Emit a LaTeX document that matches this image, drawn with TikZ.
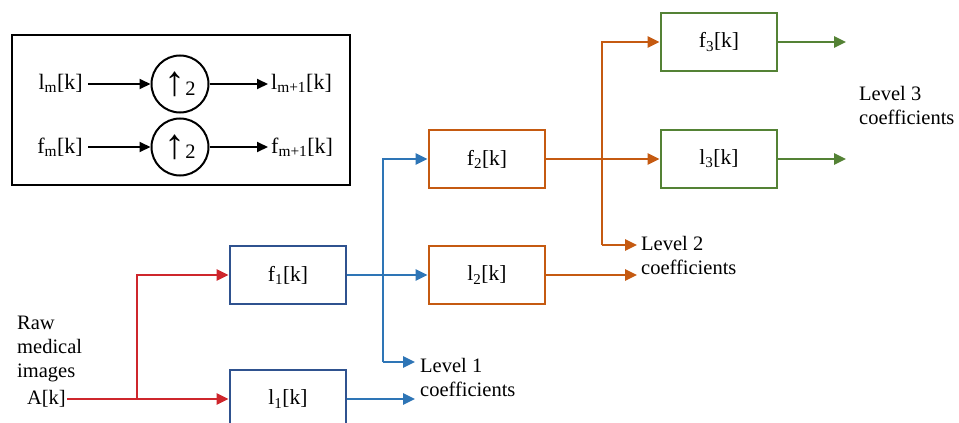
\documentclass[tikz,border=0pt]{standalone}
\usepackage{fontspec}
\setmainfont{Liberation Serif}
\usetikzlibrary{arrows.meta,positioning,calc}

\definecolor{rawred}{RGB}{206,38,44}
\definecolor{boxblue}{RGB}{47,82,143}
\definecolor{lvlblue}{RGB}{46,117,182}
\definecolor{lvlorange}{RGB}{197,90,17}
\definecolor{lvlgreen}{RGB}{84,130,53}

% tall up arrow sitting on the baseline
\newcommand{\tallup}{{\fontsize{42}{42}\selectfont ↑}}

\begin{document}
\begin{tikzpicture}[x=1pt,y=-1pt,
  font=\fontsize{20.5}{24}\selectfont,
  filt/.style={draw,line width=2.7pt,minimum width=116pt,minimum height=58pt,inner sep=0pt},
  upsamp/.style={draw,circle,line width=2pt,minimum size=57pt,inner sep=0pt},
  link/.style={line width=2.6pt,-{Triangle[length=12pt,width=11pt]}},
  lab/.style={align=left,inner sep=0pt,anchor=base west}]
\useasboundingbox (0,0) rectangle (959,423);

% legend: up-sampling by two
\node[draw,line width=2pt,minimum width=338pt,minimum height=150pt,inner sep=0pt] (legend) at (181,110) {};
\node[upsamp] (upl) at (180,84) {\tallup2};
\node[upsamp] (upf) at (180,147) {\tallup2};
\begin{scope}[font=\fontsize{22}{24}\selectfont]
  \node[anchor=east,inner sep=5pt] (lm) at (88,83) {l\textsubscript{m}[k]};
  \node[anchor=west,inner sep=3pt] (lm1) at (268,83) {l\textsubscript{m+1}[k]};
  \node[anchor=east,inner sep=5pt] (fm) at (88,147) {f\textsubscript{m}[k]};
  \node[anchor=west,inner sep=3pt] (fm1) at (268,147) {f\textsubscript{m+1}[k]};
\end{scope}
\foreach \a/\b in {lm/upl,fm/upf}
  \draw[line width=2pt,-{Triangle[length=11pt,width=10pt]}] (\a.east |- \b) -- (\b);
\foreach \a/\b in {upl/lm1,upf/fm1}
  \draw[line width=2pt,-{Triangle[length=11pt,width=10pt]}] (\a) -- (\b.west |- \a);

% filter boxes
\begin{scope}[font=\fontsize{21.5}{24}\selectfont]
\node[filt,boxblue] (f1) at (288,275) {\textcolor{black}{f\textsubscript{1}[k]}};
\node[filt,boxblue] (l1) at (288,399) {\textcolor{black}{l\textsubscript{1}[k]}};
\node[filt,lvlorange] (f2) at (487,159) {\textcolor{black}{f\textsubscript{2}[k]}};
\node[filt,lvlorange] (l2) at (487,275) {\textcolor{black}{l\textsubscript{2}[k]}};
\node[filt,lvlgreen] (f3) at (719,42) {\textcolor{black}{f\textsubscript{3}[k]}};
\node[filt,lvlgreen] (l3) at (719,159) {\textcolor{black}{l\textsubscript{3}[k]}};
\end{scope}

% input
\node[lab] (raw) at (17,377) {Raw\\medical\\images};
\node[anchor=east,inner sep=1pt] (ak) at (67,399) {A[k]};
\coordinate (rj) at (137,399);
\draw[link,rawred] (ak.east) -- (l1.west);
\draw[link,rawred] (rj) |- (f1.west);

% level 1
\coordinate (bj) at (383,0);
\coordinate (lv1tip) at (415,362);
\coordinate (l1out) at (415,399);
\draw[link,lvlblue] (f1) -- (l2);
\draw[link,lvlblue] (lv1tip -| bj) |- (f2.west);
\draw[link,lvlblue] (bj |- lv1tip) -- (lv1tip);
\draw[link,lvlblue] (l1.east) -- (l1out);
\node[lab] (lv1) at (420,396) {Level 1\\coefficients};

% level 2
\coordinate (oj) at (602,0);
\coordinate (lv2tip) at (637,245);
\coordinate (l2out) at (637,275);
\draw[link,lvlorange] (f2) -- (l3);
\draw[link,lvlorange] (lv2tip -| oj) |- (f3.west);
\draw[link,lvlorange] (oj |- lv2tip) -- (lv2tip);
\draw[link,lvlorange] (l2.east) -- (l2out);
\node[lab] (lv2) at (641,274) {Level 2\\coefficients};

% level 3
\coordinate (f3out) at (846,42);
\coordinate (l3out) at (846,159);
\draw[link,lvlgreen] (f3.east) -- (f3out);
\draw[link,lvlgreen] (l3.east) -- (l3out);
\node[lab] (lv3) at (859,124) {Level 3\\coefficients};
\end{tikzpicture}
\end{document}
